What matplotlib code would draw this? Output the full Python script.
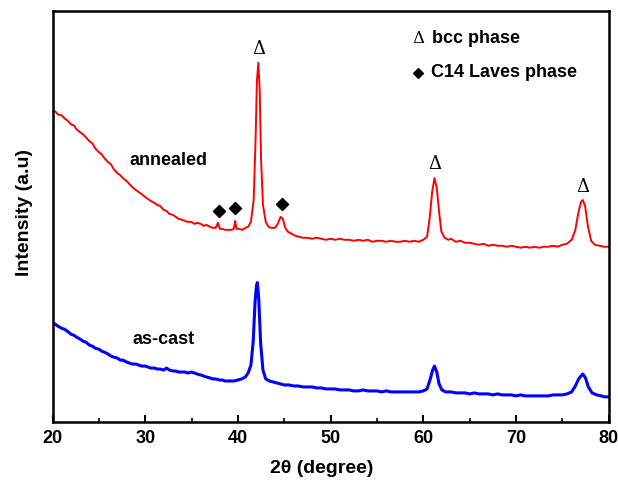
import matplotlib.pyplot as plt
from matplotlib.ticker import MultipleLocator

plt.rcParams["font.family"] = ["Liberation Sans", "DejaVu Sans"]

# %%
# annealed pattern (2theta in degree, intensity in a.u.)
annealed_2theta = [
    20.0, 20.3, 20.6, 21.0, 21.3, 21.6, 22.0, 22.3, 22.6, 23.0, 23.3, 23.6,
    24.0, 24.3, 24.6, 25.0, 25.3, 25.6, 26.0, 26.3, 26.6, 27.0, 27.3, 27.6,
    28.0, 28.3, 28.6, 29.0, 29.3, 29.6, 30.0, 30.3, 30.6, 31.0, 31.3, 31.6,
    32.0, 32.3, 32.6, 33.0, 33.3, 33.6, 34.0, 34.3, 34.6, 35.0, 35.3, 35.6,
    36.0, 36.3, 36.6, 37.0, 37.3, 37.6, 37.85, 38.05, 38.3, 38.6, 39.0, 39.3,
    39.55, 39.7, 39.85, 40.1, 40.5, 40.8, 41.1, 41.4, 41.7, 41.9, 42.05, 42.2,
    42.35, 42.5, 42.7, 43.0, 43.3, 43.6, 44.0, 44.3, 44.6, 44.85, 45.1, 45.4,
    45.8, 46.2, 46.6, 47.0, 47.5, 48.0, 48.5, 49.0, 49.5, 50.0, 50.5, 51.0,
    51.5, 52.0, 52.5, 53.0, 53.5, 54.0, 54.5, 55.0, 55.5, 56.0, 56.5, 57.0,
    57.5, 58.0, 58.5, 59.0, 59.5, 60.0, 60.4, 60.7, 60.95, 61.2, 61.45, 61.7,
    61.95, 62.3, 62.7, 63.0, 63.5, 64.0, 64.5, 65.0, 65.5, 66.0, 66.5, 67.0,
    67.5, 68.0, 68.5, 69.0, 69.5, 70.0, 70.5, 71.0, 71.5, 72.0, 72.5, 73.0,
    73.5, 74.0, 74.5, 75.0, 75.5, 76.0, 76.4, 76.7, 77.0, 77.2, 77.45, 77.75,
    78.1, 78.5, 79.0, 79.5, 80.0,
]
annealed_int = [
    372, 371, 368, 367, 364, 362, 358, 357, 353, 350, 348, 345,
    341, 339, 334, 330, 328, 324, 320, 318, 313, 309, 307, 304,
    301, 298, 295, 292, 290, 288, 285, 283, 281, 279, 277, 276,
    272, 271, 268, 267, 265, 263, 262, 261, 260, 260, 258, 259,
    258, 256, 257, 255, 254, 254, 259, 253, 253, 252, 252, 252,
    253, 261, 253, 253, 252, 254, 255, 260, 282, 342, 402, 420,
    392, 322, 277, 260, 255, 254, 254, 258, 265, 263, 254, 250,
    248, 246, 245, 244, 244, 243, 244, 243, 242, 243, 242, 243,
    242, 242, 241, 242, 241, 242, 240, 241, 241, 240, 241, 240,
    240, 241, 240, 241, 240, 242, 245, 265, 290, 304, 294, 270,
    250, 244, 242, 243, 240, 241, 239, 239, 238, 237, 238, 236,
    237, 236, 236, 235, 236, 235, 234, 235, 234, 235, 234, 235,
    235, 236, 235, 237, 238, 242, 252, 268, 280, 282, 276, 256,
    241, 237, 236, 235, 235,
]

# as-cast pattern
ascast_2theta = [
    20.0, 20.3, 20.6, 21.0, 21.3, 21.6, 22.0, 22.3, 22.6, 23.0, 23.3, 23.6,
    24.0, 24.3, 24.6, 25.0, 25.3, 25.6, 26.0, 26.3, 26.6, 27.0, 27.3, 27.6,
    28.0, 28.3, 28.6, 29.0, 29.3, 29.6, 30.0, 30.3, 30.6, 31.0, 31.3, 31.6,
    32.0, 32.3, 32.6, 33.0, 33.3, 33.6, 34.0, 34.3, 34.6, 35.0, 35.3, 35.6,
    36.0, 36.3, 36.6, 37.0, 37.3, 37.6, 38.0, 38.3, 38.6, 39.0, 39.3, 39.6,
    40.0, 40.4, 40.8, 41.1, 41.4, 41.65, 41.85, 42.0, 42.1, 42.25, 42.45, 42.7,
    43.0, 43.4, 43.8, 44.2, 44.6, 45.0, 45.5, 46.0, 46.5, 47.0, 47.5, 48.0,
    48.5, 49.0, 49.5, 50.0, 50.5, 51.0, 51.5, 52.0, 52.5, 53.0, 53.5, 54.0,
    54.5, 55.0, 55.5, 56.0, 56.5, 57.0, 57.5, 58.0, 58.5, 59.0, 59.5, 60.0,
    60.4, 60.75, 61.0, 61.2, 61.45, 61.7, 62.0, 62.4, 63.0, 63.5, 64.0, 64.5,
    65.0, 65.5, 66.0, 66.5, 67.0, 67.5, 68.0, 68.5, 69.0, 69.5, 70.0, 70.5,
    71.0, 71.5, 72.0, 72.5, 73.0, 73.5, 74.0, 74.5, 75.0, 75.5, 76.0, 76.4,
    76.75, 77.0, 77.2, 77.5, 77.8, 78.2, 78.7, 79.2, 79.6, 80.0,
]
ascast_int = [
    159, 157, 155, 153, 152, 150, 147, 146, 144, 142, 140, 139,
    136, 135, 133, 132, 130, 129, 127, 125, 124, 123, 121, 121,
    119, 118, 117, 117, 116, 115, 115, 114, 113, 113, 112, 112,
    111, 113, 111, 110, 110, 109, 109, 109, 108, 109, 108, 107,
    106, 105, 104, 103, 102, 102, 101, 101, 100, 100, 100, 100,
    101, 102, 104, 108, 116, 140, 180, 196, 199, 182, 138, 111,
    102, 100, 99, 98, 97, 96, 96, 95, 95, 94, 94, 94,
    93, 93, 92, 92, 92, 91, 91, 91, 90, 90, 91, 90,
    90, 90, 89, 90, 89, 89, 89, 89, 89, 89, 89, 90,
    92, 102, 111, 115, 109, 97, 91, 89, 89, 88, 88, 88,
    87, 88, 87, 87, 87, 86, 87, 86, 86, 86, 85, 86,
    85, 85, 85, 85, 85, 85, 86, 86, 86, 87, 89, 95,
    102, 105, 107, 103, 94, 88, 86, 85, 84, 84,
]

bcc_peaks = [42.25, 61.2, 77.2]
bcc_marks = [434, 318, 295]
laves_peaks = [37.94, 39.67, 44.73]
laves_marks = [271, 274, 278]

# %%
fig = plt.figure(figsize=(6.18, 4.82), dpi=100)
ax = fig.add_axes([0.085, 0.125, 0.9, 0.852])

ax.plot(annealed_2theta, annealed_int, color="#ff0000", lw=1.4)
ax.plot(ascast_2theta, ascast_int, color="#0000ff", lw=2.2)

for x, y in zip(bcc_peaks, bcc_marks):
    ax.text(x, y, "\u0394", ha="center", va="center", fontsize=13,
            family="DejaVu Serif")
ax.scatter(laves_peaks, laves_marks, marker="D", s=38, color="black")

ax.text(32.55, 322, "annealed", ha="center", va="center", fontsize=13,
        fontweight="bold")
ax.text(31.96, 142, "as-cast", ha="center", va="center", fontsize=13,
        fontweight="bold")

# legend-like annotations
ax.text(59.5, 444, "\u0394", ha="center", va="center", fontsize=12,
        family="DejaVu Serif")
ax.text(60.95, 444, "bcc phase", ha="left", va="center", fontsize=13,
        fontweight="bold")
ax.scatter([59.4], [410], marker="D", s=25, color="black")
ax.text(60.8, 410, "C14 Laves phase", ha="left", va="center", fontsize=13,
        fontweight="bold")

ax.set_xlim(20, 80)
ax.set_ylim(59, 472)
ax.xaxis.set_major_locator(MultipleLocator(10))
ax.xaxis.set_minor_locator(MultipleLocator(5))
ax.set_yticks([])
ax.tick_params(axis="x", which="major", direction="in", length=5, width=1.5,
               labelsize=13, pad=6)
ax.tick_params(axis="x", which="minor", direction="in", length=3, width=1.2)
for lbl in ax.get_xticklabels():
    lbl.set_fontweight("bold")

for s in ax.spines.values():
    s.set_linewidth(1.8)

ax.set_xlabel("2\u03b8 (degree)", fontsize=14, fontweight="bold", labelpad=9,
              x=0.484)
ax.set_ylabel("Intensity (a.u)", fontsize=14, fontweight="bold", labelpad=14,
              y=0.51)

fig.savefig("out.png", dpi=100)
